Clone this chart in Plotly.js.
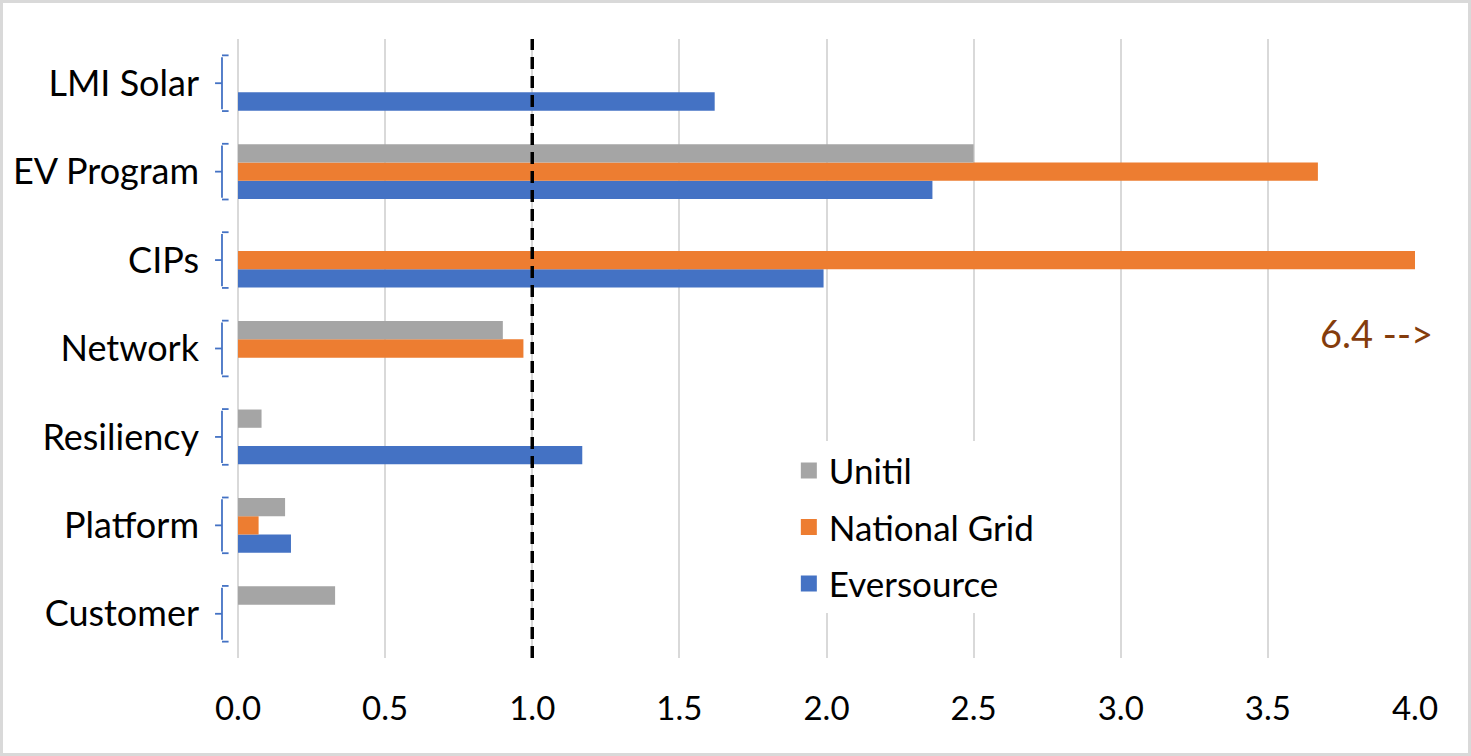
<!DOCTYPE html>
<html><head><meta charset="utf-8">
<script src="https://cdn.plot.ly/plotly-3.0.1.min.js"></script>
<style>
html,body{margin:0;padding:0;background:#fff;}
#wrap{position:relative;width:1471px;height:756px;}
#chart{width:1471px;height:756px;}
#frame{position:absolute;left:0;top:0;width:1471px;height:756px;box-sizing:border-box;border:3px solid #d9d9d9;pointer-events:none;}
</style></head>
<body>
<div id="wrap"><div id="chart"></div><div id="frame"></div></div>
<script>
// Categories, bottom to top
const categories = ['Customer', 'Platform', 'Resiliency', 'Network', 'CIPs', 'EV Program', 'LMI Solar'];
const eversource   = [null, 0.18, 1.17, null, 1.99, 2.36, 1.62];
const nationalGrid = [null, 0.07, null, 0.97, 6.4, 3.67, null];
const unitil       = [0.33, 0.16, 0.08, 0.90, null, 2.50, null];
const xTickVals = [0, 0.5, 1, 1.5, 2, 2.5, 3, 3.5, 4];
const xTickText = ['0.0', '0.5', '1.0', '1.5', '2.0', '2.5', '3.0', '3.5', '4.0'];
const offscaleNote = '6.4 -->';
const seriesNames = ['Eversource', 'National Grid', 'Unitil'];
const seriesColors = ['#4472C4', '#ED7D31', '#A5A5A5'];
const seriesValues = [eversource, nationalGrid, unitil];

const FONT = 'Lato, "Open Sans", sans-serif';

const traces = [];
seriesNames.forEach((n, k) => {
  traces.push({name: n, y: categories, x: seriesValues[k], type: 'bar', orientation: 'h',
    marker: {color: seriesColors[k]}, showlegend: false});
});
// legend entries (bigger square swatches), Unitil first
for (let k = seriesNames.length - 1; k >= 0; k--) {
  traces.push({name: seriesNames[k], x: [null], y: [null], type: 'scatter', mode: 'markers',
    marker: {symbol: 'square', size: 20, color: seriesColors[k]}, legendgroup: 'g' + k,
    showlegend: true, hoverinfo: 'skip'});
}

const shapes = [];
const bc = '#4472C4';
const xv = -0.0136, xh = -0.0080, xm = -0.0195;
categories.forEach((c, i) => {
  const t = i + 0.315, b = i - 0.315;
  shapes.push({type: 'line', xref: 'paper', yref: 'y', x0: xv, x1: xv, y0: b + 0.02, y1: t - 0.02, line: {color: bc, width: 1.8}});
  shapes.push({type: 'line', xref: 'paper', yref: 'y', x0: xv, x1: xh, y0: t, y1: t, line: {color: bc, width: 1.8}});
  shapes.push({type: 'line', xref: 'paper', yref: 'y', x0: xv, x1: xh, y0: b, y1: b, line: {color: bc, width: 1.8}});
  shapes.push({type: 'line', xref: 'paper', yref: 'y', x0: xm, x1: xv, y0: i, y1: i, line: {color: bc, width: 1.8}});
});
shapes.push({type: 'line', xref: 'x', yref: 'paper', x0: 1, x1: 1, y0: 0, y1: 1,
  line: {color: '#000', width: 3.5, dash: '12px,7px'}});

const layout = {
  width: 1471, height: 756,
  margin: {l: 238, r: 56, t: 39, b: 98},
  paper_bgcolor: '#fff', plot_bgcolor: '#fff',
  font: {family: FONT, size: 32, color: '#000'},
  barmode: 'group', bargap: 0.38, bargroupgap: 0,
  showlegend: true,
  legend: {x: 0.468, y: 0.35, xanchor: 'left', yanchor: 'top', bgcolor: '#fff',
    traceorder: 'grouped', tracegroupgap: 8, font: {family: FONT, size: 35, color: '#000'}},
  xaxis: {range: [0, 4], tickvals: xTickVals, ticktext: xTickText, showgrid: true,
    gridcolor: '#d9d9d9', gridwidth: 2, zeroline: true, zerolinecolor: '#d9d9d9', zerolinewidth: 2,
    showline: false, ticks: '', ticklabelstandoff: 28, tickfont: {family: FONT, size: 33, color: '#000'}},
  yaxis: {type: 'category', categoryorder: 'array', categoryarray: categories,
    showgrid: false, zeroline: false, showline: false, ticks: '', ticklabelstandoff: 38,
    tickfont: {family: FONT, size: 36, color: '#000'}},
  shapes: shapes,
  annotations: [{x: 3.87, y: 3.17, xref: 'x', yref: 'y', text: offscaleNote, showarrow: false,
    font: {family: FONT, size: 38, color: '#843C0C'}, bgcolor: '#fff', borderpad: 6}]
};

Plotly.newPlot('chart', traces, layout, {displayModeBar: false, staticPlot: true});
</script>
</body></html>
